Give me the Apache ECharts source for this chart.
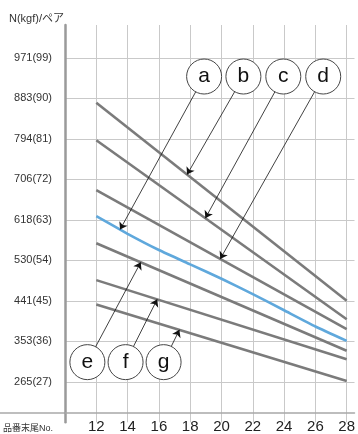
<!DOCTYPE html>
<html>
<head>
<meta charset="utf-8">
<script src="https://cdn.jsdelivr.net/npm/echarts@6/dist/echarts.min.js"></script>
<style>
  html, body { margin: 0; padding: 0; background: #fff; }
  #chart { width: 358px; height: 434px; }
</style>
</head>
<body>
<div id="chart"></div>
<script>
// 品番末尾No.
const noX = [12, 14, 16, 18, 20, 22, 24, 26, 28]
// y ticks: kgf and N
const yTickKgf = [27, 36, 45, 54, 63, 72, 81, 90, 99]
const yTickN = [265, 353, 441, 530, 618, 706, 794, 883, 971]

// values in kgf, straight lines read at No.12 and No.28
const lineEndX = [12, 28]
const lineB = [89.0, 45.0]
const lineC = [80.7, 40.9]
const lineD = [69.6, 38.7]
const lineA = [63.8, 59.9, 56.3, 53.1, 49.9, 46.5, 42.9, 39.3, 36.1] // blue, at every noX
const lineE = [57.8, 33.9]
const lineF = [49.6, 32.0]
const lineG = [44.2, 27.2]

// circled tags, where they sit and which line / x they point to
const tagNames = ['a', 'b', 'c', 'd', 'e', 'f', 'g']
const tagX = [18.89, 21.40, 23.95, 26.50, 11.43, 13.87, 16.30]
const tagY = [94.85, 94.85, 94.85, 94.85, 31.37, 31.37, 31.37]
const tagTargetX = [13.52, 17.80, 18.97, 19.92, 14.84, 15.89, 17.31]

const FONT = '"Liberation Sans", Arial, "Noto Sans CJK JP", sans-serif'
const GRAY = '#7b7b7b'
const BLUE = '#5fa8dc'

const toPairs = (xs, ys) => xs.map((x, i) => [x, ys[i]])
const lines = {
  a: toPairs(noX, lineA),
  b: toPairs(lineEndX, lineB),
  c: toPairs(lineEndX, lineC),
  d: toPairs(lineEndX, lineD),
  e: toPairs(lineEndX, lineE),
  f: toPairs(lineEndX, lineF),
  g: toPairs(lineEndX, lineG)
}

function valueAt(pts, x) {
  for (let i = 0; i < pts.length - 1; i++) {
    const [x0, y0] = pts[i]
    const [x1, y1] = pts[i + 1]
    if (x >= x0 && x <= x1) return y0 + (y1 - y0) * (x - x0) / (x1 - x0)
  }
  return pts[pts.length - 1][1]
}

const arrows = tagNames.map((n, i) => [
  { coord: [tagX[i], tagY[i]] },
  { coord: [tagTargetX[i], valueAt(lines[n], tagTargetX[i])] }
])

const X_OFFSET = -9.3

function lineSeries(name, color) {
  return {
    name: name,
    type: 'line',
    data: lines[name],
    symbol: 'none',
    smooth: name === 'a' ? 0.15 : false,
    z: 2,
    lineStyle: { color: color, width: 2.6, cap: 'butt' }
  }
}

const chart = echarts.init(document.getElementById('chart'))
chart.setOption({
  animation: false,
  textStyle: { fontFamily: FONT },
  title: {
    text: 'N(kgf)/ペア',
    left: 4,
    top: 8,
    textStyle: { fontSize: 11, fontWeight: 'normal', color: '#333', fontFamily: FONT }
  },
  grid: { left: 64, right: 1, top: 25, bottom: 10.7 },
  xAxis: {
    type: 'value',
    min: 10,
    max: 28.5,
    interval: 2,
    offset: X_OFFSET,
    name: '品番末尾No.',
    nameLocation: 'start',
    nameGap: 12,
    nameTextStyle: { fontSize: 9, color: '#333', verticalAlign: 'top', padding: [11, 0, 0, 0], fontFamily: FONT },
    axisLine: { show: true, lineStyle: { color: '#a8a8a8', width: 1.5 } },
    axisTick: { show: false },
    axisLabel: {
      margin: 6,
      fontSize: 15,
      color: '#222',
      formatter: v => noX.indexOf(v) >= 0 ? String(v) : ''
    },
    splitLine: { show: true, showMinLine: false, showMaxLine: false, lineStyle: { color: '#c9c9c9', width: 1 } }
  },
  yAxis: {
    type: 'value',
    min: 18,
    max: 106.3,
    interval: 9,
    axisLine: { show: true, lineStyle: { color: '#9a9a9a', width: 2.5 } },
    axisTick: { show: false },
    axisLabel: {
      margin: 13,
      fontSize: 11,
      color: '#333',
      formatter: v => {
        const i = yTickKgf.indexOf(v)
        return i >= 0 ? `${yTickN[i]}(${v})` : ''
      }
    },
    splitLine: { show: true, showMinLine: false, showMaxLine: false, lineStyle: { color: '#c9c9c9', width: 1 } }
  },
  graphic: [],
  series: [
    lineSeries('b', GRAY),
    lineSeries('c', GRAY),
    lineSeries('d', GRAY),
    lineSeries('e', GRAY),
    lineSeries('f', GRAY),
    lineSeries('g', GRAY),
    lineSeries('a', BLUE),
    {
      name: 'arrows',
      type: 'line',
      data: [],
      z: 3,
      markLine: {
        silent: true,
        symbol: ['none', 'arrow'],
        symbolSize: 7,
        label: { show: false },
        lineStyle: { color: '#111', width: 0.8, type: 'solid' },
        data: arrows
      }
    },
    {
      name: 'tags',
      type: 'scatter',
      z: 5,
      symbol: 'circle',
      symbolSize: 35,
      itemStyle: { color: '#fff', opacity: 1, borderColor: '#444', borderWidth: 1 },
      label: {
        show: true,
        position: 'inside',
        fontSize: 21,
        color: '#111',
        formatter: p => p.name
      },
      data: tagNames.map((n, i) => ({ name: n, value: [tagX[i], tagY[i]] }))
    }
  ]
})

// x axis rule runs on to the left edge under the y labels
const axisY = chart.convertToPixel({ yAxisIndex: 0 }, 18) + X_OFFSET
const axisX = chart.convertToPixel({ xAxisIndex: 0 }, 10)
chart.setOption({
  graphic: [{
    type: 'line',
    shape: { x1: 0, y1: axisY, x2: axisX, y2: axisY },
    style: { stroke: '#a8a8a8', lineWidth: 1.5 }
  }]
})
</script>
</body>
</html>
